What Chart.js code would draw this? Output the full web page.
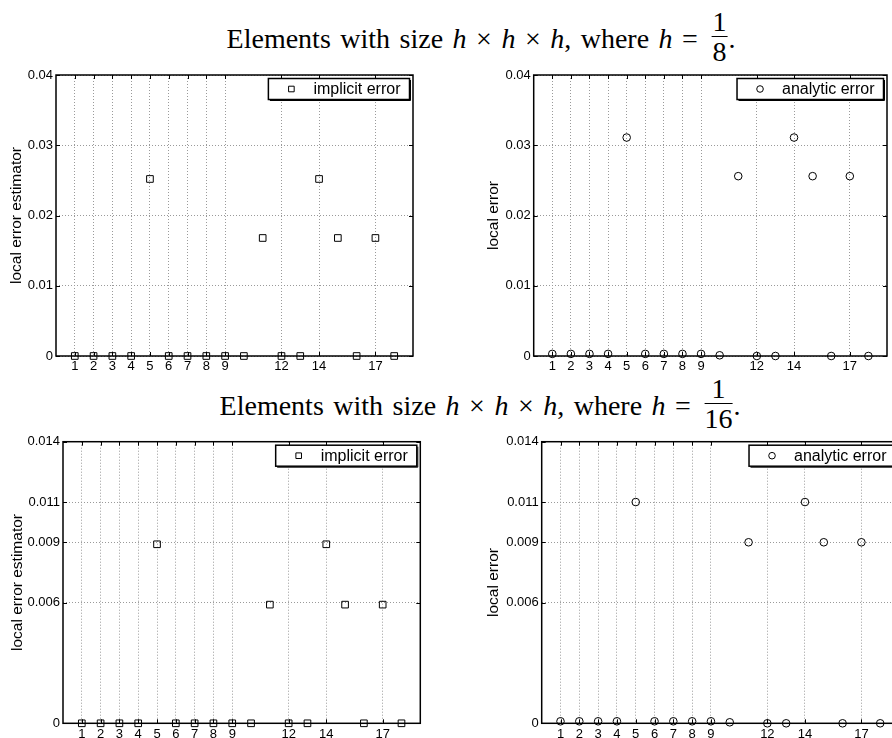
<!DOCTYPE html>
<html lang="en">
<head>
    <meta charset="UTF-8">
    <title>Local error per element</title>
    <script src="https://cdn.jsdelivr.net/npm/chart.js"></script>
    <style>
        html, body {
            margin: 0;
            padding: 0;
            background: #ffffff;
            overflow: hidden;
        }
        body {
            position: relative;
            width: 892px;
            height: 738px;
        }
        canvas {
            position: absolute;
        }
        .title {
            position: absolute;
            transform: translateX(-50%);
            white-space: nowrap;
            font-family: "Liberation Serif", "DejaVu Serif", serif;
            font-size: 28px;
            line-height: 28px;
            word-spacing: 2.5px;
            color: #000;
        }
        .frac {
            display: inline-block;
            vertical-align: -13px;
            text-align: center;
            margin: 0 1px 0 4px;
        }
        .frac span {
            display: block;
            line-height: 29px;
        }
        .frac .num {
            border-bottom: 1px solid #000;
            padding: 0 1px;
        }
    </style>
</head>
<body>
    <div class="title" style="left: 481px; top: 7px;">Elements with size <i>h</i> &times; <i>h</i> &times; <i>h</i>, where <i>h</i> = <span class="frac"><span class="num">1</span><span>8</span></span>.</div>
    <div class="title" style="left: 480px; top: 374px;">Elements with size <i>h</i> &times; <i>h</i> &times; <i>h</i>, where <i>h</i> = <span class="frac"><span class="num">1</span><span>16</span></span>.</div>

    <canvas id="implicit8" width="446" height="314" style="left: 0px; top: 60px;"></canvas>
    <canvas id="analytic8" width="446" height="314" style="left: 446px; top: 60px;"></canvas>
    <canvas id="implicit16" width="446" height="308" style="left: 0px; top: 430px;"></canvas>
    <canvas id="analytic16" width="460" height="308" style="left: 446px; top: 430px;"></canvas>

    <script>
        // element numbers 1..18 and the labelled ticks on the x axis
        const elements = [1, 2, 3, 4, 5, 6, 7, 8, 9, 10, 11, 12, 13, 14, 15, 16, 17, 18];
        const xTickValues = [1, 2, 3, 4, 5, 6, 7, 8, 9, 12, 14, 17];

        // h = 1/8
        const implicitH8 = [0, 0, 0, 0, 0.0252, 0, 0, 0, 0, 0, 0.0168, 0, 0, 0.0252, 0.0168, 0, 0.0168, 0];
        const analyticH8 = [0.0003, 0.0003, 0.0003, 0.0003, 0.0311, 0.0003, 0.0003, 0.0003, 0.0003, 0.0001, 0.0256, 0, 0, 0.0311, 0.0256, 0, 0.0256, 0];
        const yTicksH8 = [0, 0.01, 0.02, 0.03, 0.04];

        // h = 1/16
        const implicitH16 = [0, 0, 0, 0, 0.0089, 0, 0, 0, 0, 0, 0.0059, 0, 0, 0.0089, 0.0059, 0, 0.0059, 0];
        const analyticH16 = [0.0001, 0.0001, 0.0001, 0.0001, 0.011, 0.0001, 0.0001, 0.0001, 0.0001, 0.00005, 0.009, 0, 0, 0.011, 0.009, 0, 0.009, 0];
        const yTicksH16 = [0, 0.006, 0.009, 0.011, 0.014];

        Chart.defaults.font.family = '"Liberation Sans", Arial, sans-serif';
        Chart.defaults.color = '#000';

        // box around the axes with small inward tick marks, matlab style
        const axesBox = {
            id: 'axesBox',
            afterDatasetsDraw(chart) {
                const { ctx, chartArea: a, scales } = chart;
                ctx.save();
                ctx.strokeStyle = '#000';
                ctx.lineWidth = 1;
                ctx.beginPath();
                scales.x.ticks.forEach(t => {
                    const px = Math.round(scales.x.getPixelForValue(t.value)) + 0.5;
                    ctx.moveTo(px, a.bottom); ctx.lineTo(px, a.bottom - 4);
                    ctx.moveTo(px, a.top); ctx.lineTo(px, a.top + 4);
                });
                scales.y.ticks.forEach(t => {
                    const py = Math.round(scales.y.getPixelForValue(t.value)) + 0.5;
                    ctx.moveTo(a.left, py); ctx.lineTo(a.left + 4, py);
                    ctx.moveTo(a.right, py); ctx.lineTo(a.right - 4, py);
                });
                ctx.stroke();
                ctx.lineWidth = 1.5;
                ctx.strokeRect(a.left, a.top, a.right - a.left, a.bottom - a.top);
                ctx.restore();
            }
        };

        // legend box in the upper right corner of the axes
        const cornerLegend = {
            id: 'cornerLegend',
            afterDraw(chart) {
                const { ctx, chartArea: a } = chart;
                const ds = chart.data.datasets[0];
                ctx.save();
                ctx.font = '16px "Liberation Sans", Arial, sans-serif';
                const w = 45 + ctx.measureText(ds.label).width + 9;
                const h = 21;
                const x = a.right - 3.5 - w;
                const y = a.top + 3.5;
                ctx.fillStyle = '#fff';
                ctx.fillRect(x, y, w, h);
                ctx.strokeStyle = '#000';
                ctx.lineWidth = 1.5;
                ctx.strokeRect(x, y, w, h);
                ctx.lineWidth = 1;
                ctx.beginPath();
                ctx.moveTo(x + 1.5, y + h + 1); ctx.lineTo(x + w + 1, y + h + 1); ctx.lineTo(x + w + 1, y + 1.5);
                ctx.stroke();
                const mx = x + 23, my = y + h / 2;
                ctx.beginPath();
                if (ds.pointStyle === 'rect') {
                    ctx.rect(mx - 2.8, my - 2.8, 5.6, 5.6);
                } else {
                    ctx.arc(mx, my, 3.3, 0, Math.PI * 2);
                }
                ctx.stroke();
                ctx.fillStyle = '#000';
                ctx.textBaseline = 'middle';
                ctx.fillText(ds.label, x + 45, my + 1);
                ctx.restore();
            }
        };

        function makePanel(id, label, values, yTicks, yTitle, style, box) {
            const canvas = document.getElementById(id);
            const left = parseFloat(canvas.style.left);
            const top = parseFloat(canvas.style.top);
            const points = elements.map((e, i) => ({ x: e, y: values[i] }));
            return new Chart(canvas, {
                type: 'scatter',
                data: {
                    datasets: [{
                        label: label,
                        data: points,
                        pointStyle: style,
                        pointRadius: style === 'rect' ? 4.7 : 3.8,
                        pointBorderWidth: 1,
                        pointBorderColor: '#000',
                        pointBackgroundColor: 'rgba(0,0,0,0)',
                        clip: false
                    }]
                },
                options: {
                    responsive: false,
                    animation: false,
                    devicePixelRatio: 1,
                    events: [],
                    layout: {
                        padding: {
                            left: 0,
                            top: box.t - top,
                            right: left + canvas.width - box.r,
                            bottom: 0
                        }
                    },
                    plugins: {
                        legend: { display: false },
                        tooltip: { enabled: false }
                    },
                    scales: {
                        x: {
                            type: 'linear',
                            min: 0,
                            max: 19,
                            afterBuildTicks: s => { s.ticks = xTickValues.map(v => ({ value: v })); },
                            afterFit: s => { s.height = top + canvas.height - box.b; },
                            ticks: {
                                autoSkip: false,
                                maxRotation: 0,
                                padding: 3,
                                font: { size: 13 }
                            },
                            grid: { color: '#9a9a9a', lineWidth: 1, drawTicks: false },
                            border: { display: false, dash: [1, 2] }
                        },
                        y: {
                            type: 'linear',
                            min: yTicks[0],
                            max: yTicks[yTicks.length - 1],
                            afterBuildTicks: s => { s.ticks = yTicks.map(v => ({ value: v })); },
                            afterFit: s => { s.width = box.l - left; },
                            ticks: {
                                padding: 3,
                                font: { size: 13 },
                                callback: v => (v === 0 ? '0' : String(v))
                            },
                            grid: { color: '#9a9a9a', lineWidth: 1, drawTicks: false },
                            border: { display: false, dash: [1, 2] },
                            title: {
                                display: true,
                                text: yTitle,
                                font: { size: 15.5 },
                                padding: { top: box.title - left - 9.3, bottom: 0 }
                            }
                        }
                    }
                },
                plugins: [axesBox, cornerLegend]
            });
        }

        makePanel('implicit8', 'implicit error', implicitH8, yTicksH8, 'local error estimator', 'rect',
            { l: 56, t: 75, r: 413, b: 356, title: 17 });
        makePanel('analytic8', 'analytic error', analyticH8, yTicksH8, 'local error', 'circle',
            { l: 533.7, t: 75, r: 890.7, b: 356, title: 494 });
        makePanel('implicit16', 'implicit error', implicitH16, yTicksH16, 'local error estimator', 'rect',
            { l: 63, t: 441.7, r: 420.3, b: 723.3, title: 18 });
        makePanel('analytic16', 'analytic error', analyticH16, yTicksH16, 'local error', 'circle',
            { l: 541.7, t: 441.7, r: 899, b: 723.3, title: 494 });
    </script>
</body>
</html>
